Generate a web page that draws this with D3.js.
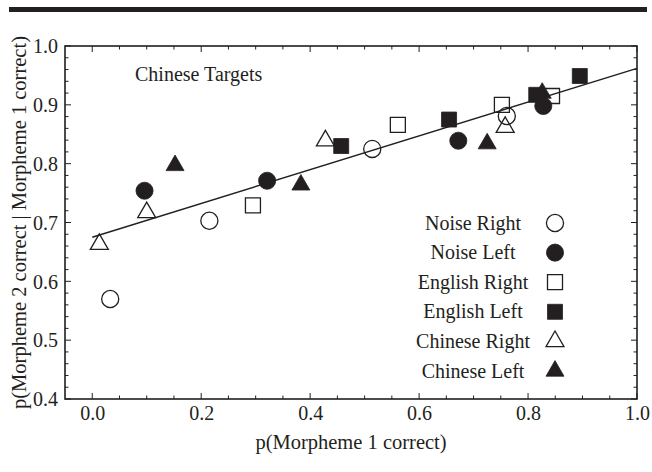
<!DOCTYPE html>
<html>
<head>
<meta charset="utf-8">
<script src="https://cdn.jsdelivr.net/npm/d3@7"></script>
<style>
  html, body { margin: 0; padding: 0; background: #fff; }
  svg { display: block; }
</style>
</head>
<body>
<svg id="chart" width="652" height="472"></svg>
<script>
// ---- data ----
const seriesNames = ["Noise Right", "Noise Left", "English Right", "English Left", "Chinese Right", "Chinese Left"];
const noiseRightX = [0.033, 0.215, 0.514, 0.761];
const noiseRightY = [0.570, 0.703, 0.825, 0.881];
const noiseLeftX = [0.096, 0.321, 0.672, 0.828];
const noiseLeftY = [0.754, 0.771, 0.839, 0.898];
const englishRightX = [0.295, 0.561, 0.752, 0.844];
const englishRightY = [0.729, 0.866, 0.900, 0.915];
const englishLeftX = [0.457, 0.655, 0.815, 0.895];
const englishLeftY = [0.830, 0.875, 0.917, 0.949];
const chineseRightX = [0.013, 0.100, 0.428, 0.758];
const chineseRightY = [0.663, 0.717, 0.839, 0.862];
const chineseLeftX = [0.152, 0.383, 0.725, 0.826];
const chineseLeftY = [0.797, 0.764, 0.834, 0.920];
const fitX = [0.0, 1.0];
const fitY = [0.675, 0.962];
const xTickLabels = ["0.0", "0.2", "0.4", "0.6", "0.8", "1.0"];
const yTickLabels = ["0.4", "0.5", "0.6", "0.7", "0.8", "0.9", "1.0"];
const panelTitle = "Chinese Targets";
const xTitle = "p(Morpheme 1 correct)";
const yTitle = "p(Morpheme 2 correct | Morpheme 1 correct)";

// ---- layout ----
const ink = "#231f20";
const FONT = "'Times New Roman', 'Liberation Serif', 'DejaVu Serif', serif";
const L = 65, R = 637, T = 46, B = 399;
const svg = d3.select("#chart").attr("font-family", FONT);

const x = d3.scaleLinear().domain([-0.05, 1.0]).range([L, R]);
const y = d3.scaleLinear().domain([0.4, 1.0]).range([B, T]);

// top rule
svg.append("rect").attr("x", 9).attr("y", 7).attr("width", 638).attr("height", 5).attr("fill", ink);

// ticks (inward on all four sides)
const xMinor = d3.range(0, 21).map(i => i * 0.05);
const yMinor = d3.range(0, 31).map(i => 0.4 + i * 0.02);
const isXMajor = v => Math.abs(Math.round(v / 0.2) * 0.2 - v) < 1e-6;
const isYMajor = v => Math.abs(Math.round(v / 0.1) * 0.1 - v) < 1e-6;

const tickG = svg.append("g");
xMinor.forEach(v => {
  const len = isXMajor(v) ? 6 : 3.5;
  tickG.append("line").attr("x1", x(v)).attr("x2", x(v)).attr("y1", B).attr("y2", B - len);
  tickG.append("line").attr("x1", x(v)).attr("x2", x(v)).attr("y1", T).attr("y2", T + len);
});
yMinor.forEach(v => {
  const len = isYMajor(v) ? 6 : 3.5;
  tickG.append("line").attr("x1", L).attr("x2", L + len).attr("y1", y(v)).attr("y2", y(v));
  tickG.append("line").attr("x1", R).attr("x2", R - len).attr("y1", y(v)).attr("y2", y(v));
});
tickG.selectAll("line").attr("stroke", ink).attr("stroke-width", 1);

// tick labels via d3 axes
const xAxis = d3.axisBottom(x).tickValues(xTickLabels.map(Number)).tickSize(0).tickPadding(0)
  .tickFormat((d, i) => xTickLabels[i]);
const gx = svg.append("g").attr("transform", `translate(0,${B})`).call(xAxis)
  .attr("font-family", FONT).attr("font-size", 20);
gx.select(".domain").remove();
gx.selectAll("text").attr("dy", null).attr("y", 21).attr("fill", ink);

const yAxis = d3.axisLeft(y).tickValues(yTickLabels.map(Number)).tickSize(0).tickPadding(0)
  .tickFormat((d, i) => yTickLabels[i]);
const gy = svg.append("g").attr("transform", `translate(${L - 7},0)`).call(yAxis)
  .attr("font-family", FONT).attr("font-size", 20);
gy.select(".domain").remove();
gy.selectAll("text").attr("x", 0).attr("dy", "0.34em").attr("fill", ink);

// frame
svg.append("rect").attr("x", L).attr("y", T).attr("width", R - L).attr("height", B - T)
  .attr("fill", "none").attr("stroke", ink).attr("stroke-width", 1.6);

// axis titles
svg.append("text").attr("x", (L + R) / 2).attr("y", 449).attr("text-anchor", "middle")
  .attr("font-size", 20.5).attr("fill", ink).text(xTitle);
svg.append("text").attr("transform", `translate(26,${(T + B) / 2}) rotate(-90)`)
  .attr("text-anchor", "middle").attr("font-size", 20.5).attr("fill", ink).text(yTitle);

// panel title
svg.append("text").attr("x", 135).attr("y", 81).attr("font-size", 20).attr("fill", ink).text(panelTitle);

// regression line
const line = d3.line().x(d => x(d[0])).y(d => y(d[1]));
svg.append("path").datum(fitX.map((v, i) => [v, fitY[i]]))
  .attr("d", line).attr("fill", "none").attr("stroke", ink).attr("stroke-width", 1.4);

// markers
const shapes = {
  circle: d3.symbol().type(d3.symbolCircle).size(230),
  square: d3.symbol().type(d3.symbolSquare).size(225),
  triangle: d3.symbol().type(d3.symbolTriangle).size(140)
};
const series = [
  { name: seriesNames[0], xs: noiseRightX, ys: noiseRightY, shape: "circle", filled: false },
  { name: seriesNames[1], xs: noiseLeftX, ys: noiseLeftY, shape: "circle", filled: true },
  { name: seriesNames[2], xs: englishRightX, ys: englishRightY, shape: "square", filled: false },
  { name: seriesNames[3], xs: englishLeftX, ys: englishLeftY, shape: "square", filled: true },
  { name: seriesNames[4], xs: chineseRightX, ys: chineseRightY, shape: "triangle", filled: false },
  { name: seriesNames[5], xs: chineseLeftX, ys: chineseLeftY, shape: "triangle", filled: true }
];
function styleMark(sel, s) {
  sel.attr("d", shapes[s.shape]())
    .attr("fill", s.filled ? ink : "none")
    .attr("stroke", ink)
    .attr("stroke-width", s.filled ? 0.8 : 1.3);
}
const markG = svg.append("g");
series.forEach(s => {
  const pts = s.xs.map((v, i) => [v, s.ys[i]]);
  markG.append("g").selectAll("path").data(pts).join("path")
    .attr("transform", d => `translate(${x(d[0])},${y(d[1])})`)
    .call(styleMark, s);
});

// legend
const legG = svg.append("g");
const legY0 = 223, legStep = 29.6, legTextX = 473, legSymX = 555;
series.forEach((s, i) => {
  const yy = legY0 + i * legStep;
  legG.append("text").attr("x", legTextX).attr("y", yy + 6.5).attr("text-anchor", "middle")
    .attr("font-size", 20).attr("fill", ink).text(s.name);
  legG.append("path").attr("transform", `translate(${legSymX},${yy})`).call(styleMark, s);
});
</script>
</body>
</html>
